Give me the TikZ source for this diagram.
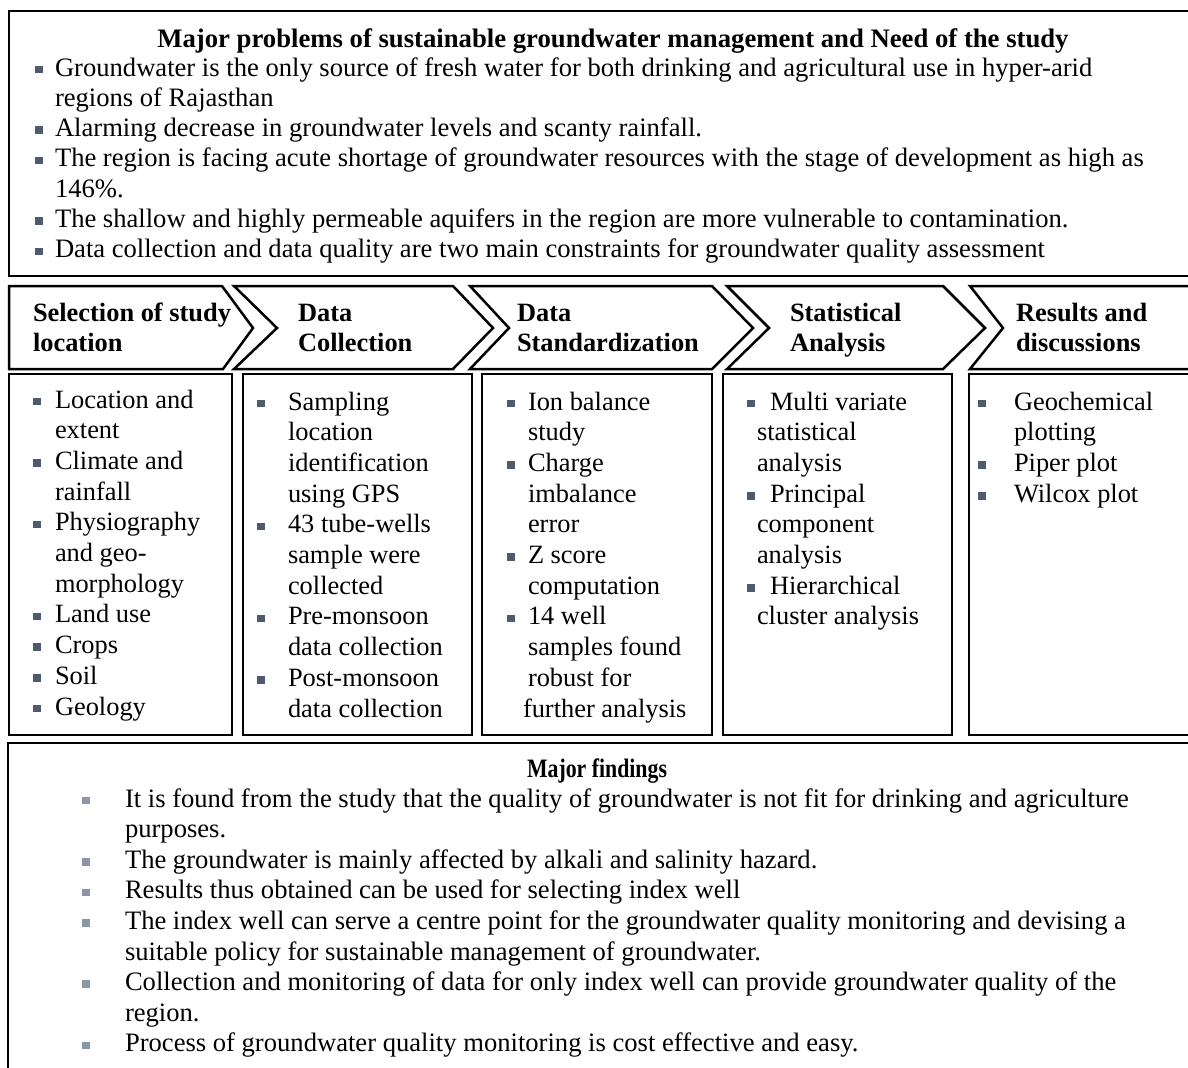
\documentclass[tikz,border=0pt]{standalone}
\usepackage{fontspec}
\usepackage{graphicx}
\setmainfont{Liberation Serif}
\definecolor{bul}{HTML}{4E5B6E}
\definecolor{bulL}{HTML}{8C96A8}
\newcommand\sqb[1][bul]{\textcolor{#1}{\rule[1.3pt]{3.8pt}{3.8pt}}}
\newcommand\BI[2][bul]{\makebox[#2][l]{\sqb[#1]}}
\newcommand\IN[1]{\hspace*{#1}}
\tikzset{
  boxline/.style={draw=black, line width=1.35pt},
  chevline/.style={draw=black, line width=1.25pt, line join=miter},
  txt/.style={anchor=base west, inner sep=0pt, outer sep=0pt},
  topfont/.style={font=\fontsize{13.3}{15.15}\selectfont},
  colfont/.style={font=\fontsize{13.2}{15.35}\selectfont},
  headfont/.style={font=\bfseries\fontsize{13.2}{15.2}\selectfont},
  botfont/.style={font=\fontsize{13.3}{15.3}\selectfont},
}
\begin{document}
\begin{tikzpicture}[x=0.5pt,y=-0.5pt]
\useasboundingbox[fill=white] (0,0) rectangle (1188,1067);
\clip (0,0) rectangle (1188,1067);

% ---------- top box ----------
\draw[boxline] (9,11) rectangle (1220,276);
\node[anchor=base, inner sep=0pt, font=\bfseries\fontsize{13.35}{15}\selectfont] (toptitle) at (613,47)
  {Major problems of sustainable groundwater management and Need of the study};
\node[txt, topfont] (toplist) at (35,76) {\renewcommand\arraystretch{1}\begin{tabular}[t]{@{}l@{}}
\BI{10pt}Groundwater is the only source of fresh water for both drinking and agricultural use in hyper-arid\\
\IN{10pt}regions of Rajasthan\\
\BI{10pt}Alarming decrease in groundwater levels and scanty rainfall.\\
\BI{10pt}The region is facing acute shortage of groundwater resources with the stage of development as high as\\
\IN{10pt}146\%.\\
\BI{10pt}The shallow and highly permeable aquifers in the region are more vulnerable to contamination.\\
\BI{10pt}Data collection and data quality are two main constraints for groundwater quality assessment
\end{tabular}};

% ---------- chevrons ----------
\draw[chevline] (9,286) -- (222,286) -- (253,328) -- (223,369) -- (9,369) -- cycle;
\draw[chevline] (234,286) -- (453,286) -- (493,328) -- (453,369) -- (234,369) -- (277,328) -- cycle;
\draw[chevline] (470,286) -- (712,286) -- (753,328) -- (712,369) -- (470,369) -- (509,328) -- cycle;
\draw[chevline] (727,286) -- (943,286) -- (985,328) -- (943,369) -- (727,369) -- (769,328) -- cycle;
\draw[chevline] (1220,286) -- (970,286) -- (1003,328) -- (970,369) -- (1220,369);

\node[txt, headfont] (h1) at (33,321) {\begin{tabular}[t]{@{}l@{}}Selection of study\\location\end{tabular}};
\node[txt, headfont] (h2) at (298,321) {\begin{tabular}[t]{@{}l@{}}Data\\Collection\end{tabular}};
\node[txt, headfont] (h3) at (517,321) {\begin{tabular}[t]{@{}l@{}}Data\\Standardization\end{tabular}};
\node[txt, headfont] (h4) at (790,321) {\begin{tabular}[t]{@{}l@{}}Statistical\\Analysis\end{tabular}};
\node[txt, headfont] (h5) at (1016,321) {\begin{tabular}[t]{@{}l@{}}Results and\\discussions\end{tabular}};

% ---------- column boxes ----------
\draw[boxline] (9,374) rectangle (232,735);
\draw[boxline] (243,374) rectangle (472,735);
\draw[boxline] (482,374) rectangle (712,735);
\draw[boxline] (723,374) rectangle (952,735);
\draw[boxline] (969,374) rectangle (1220,735);

\node[txt, colfont] (c1) at (33,408) {\begin{tabular}[t]{@{}l@{}}
\BI{11pt}Location and\\
\IN{11pt}extent\\
\BI{11pt}Climate and\\
\IN{11pt}rainfall\\
\BI{11pt}Physiography\\
\IN{11pt}and geo-\\
\IN{11pt}morphology\\
\BI{11pt}Land use\\
\BI{11pt}Crops\\
\BI{11pt}Soil\\
\BI{11pt}Geology
\end{tabular}};

\node[txt, colfont] (c2) at (257,410) {\begin{tabular}[t]{@{}l@{}}
\BI{15.5pt}Sampling\\
\IN{15.5pt}location\\
\IN{15.5pt}identification\\
\IN{15.5pt}using GPS\\
\BI{15.5pt}43 tube-wells\\
\IN{15.5pt}sample were\\
\IN{15.5pt}collected\\
\BI{15.5pt}Pre-monsoon\\
\IN{15.5pt}data collection\\
\BI{15.5pt}Post-monsoon\\
\IN{15.5pt}data collection
\end{tabular}};

\node[txt, colfont] (c3) at (507,410) {\begin{tabular}[t]{@{}l@{}}
\BI{10.5pt}Ion balance\\
\IN{10.5pt}study\\
\BI{10.5pt}Charge\\
\IN{10.5pt}imbalance\\
\IN{10.5pt}error\\
\BI{10.5pt}Z score\\
\IN{10.5pt}computation\\
\BI{10.5pt}14 well\\
\IN{10.5pt}samples found\\
\IN{10.5pt}robust for\\
\IN{8pt}further analysis
\end{tabular}};

\node[txt, colfont] (c4) at (747,410) {\begin{tabular}[t]{@{}l@{}}
\BI{11.5pt}Multi variate\\
\IN{5pt}statistical\\
\IN{5pt}analysis\\
\BI{11.5pt}Principal\\
\IN{5pt}component\\
\IN{5pt}analysis\\
\BI{11.5pt}Hierarchical\\
\IN{5pt}cluster analysis
\end{tabular}};

\node[txt, colfont] (c5) at (978,410) {\begin{tabular}[t]{@{}l@{}}
\BI{18pt}Geochemical\\
\IN{18pt}plotting\\
\BI{18pt}Piper plot\\
\BI{18pt}Wilcox plot
\end{tabular}};

% ---------- bottom box ----------
\draw[boxline] (8,1090) -- (8,743) -- (1220,743);
\node[anchor=base, inner sep=0pt, font=\bfseries\fontsize{13.3}{15}\selectfont] (bottitle) at (597,777) {\scalebox{0.82}[1]{Major findings}};
\node[txt, botfont] (botlist) at (82,807) {\begin{tabular}[t]{@{}l@{}}
\BI[bulL]{21.5pt}It is found from the study that the quality of groundwater is not fit for drinking and agriculture\\
\IN{21.5pt}purposes.\\
\BI[bulL]{21.5pt}The groundwater is mainly affected by alkali and salinity hazard.\\
\BI[bulL]{21.5pt}Results thus obtained can be used for selecting index well\\
\BI[bulL]{21.5pt}The index well can serve a centre point for the groundwater quality monitoring and devising a\\
\IN{21.5pt}suitable policy for sustainable management of groundwater.\\
\BI[bulL]{21.5pt}Collection and monitoring of data for only index well can provide groundwater quality of the\\
\IN{21.5pt}region.\\
\BI[bulL]{21.5pt}Process of groundwater quality monitoring is cost effective and easy.
\end{tabular}};
\end{tikzpicture}
\end{document}
